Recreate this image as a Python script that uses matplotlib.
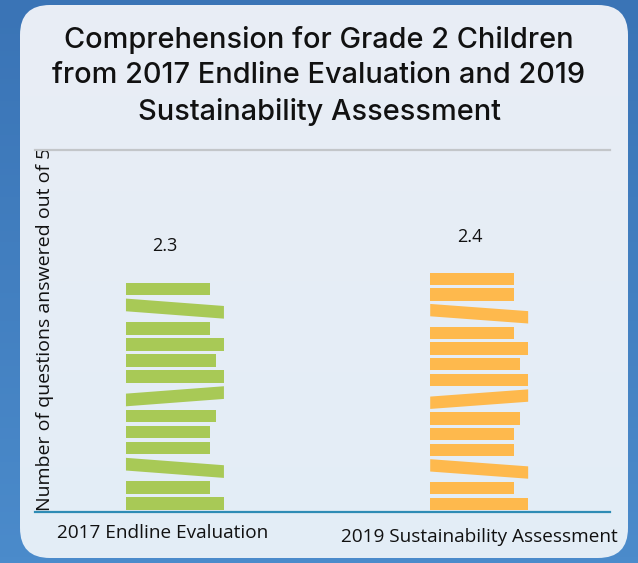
import numpy as np
import matplotlib.pyplot as plt
from matplotlib.patches import FancyBboxPatch, Polygon
from matplotlib.colors import LinearSegmentedColormap
from matplotlib.transforms import ScaledTranslation

categories = ['2017 Endline Evaluation', '2019 Sustainability Assessment']
values = [2.3, 2.4]
value_labels = ['2.3', '2.4']
colors = ['#a8c956', '#feb94d']
title = ('Comprehension for Grade 2 Children\n'
         'from 2017 Endline Evaluation and 2019\n'
         'Sustainability Assessment')
ylabel = 'Number of questions answered out of 5'

# book-stack look of each bar, bottom to top: (width fraction, tilt)
stacks = [
    [(1.0, 0), (0.86, 0), (1.0, -1), (0.86, 0), (0.86, 0), (0.92, 0), (1.0, 1),
     (1.0, 0), (0.92, 0), (1.0, 0), (0.86, 0), (1.0, -1), (0.86, 0)],
    [(1.0, 0), (0.86, 0), (1.0, -1), (0.86, 0), (0.86, 0), (0.92, 0), (1.0, 1),
     (1.0, 0), (0.92, 0), (1.0, 0), (0.86, 0), (1.0, -1), (0.86, 0), (0.86, 0)],
]

W, H = 638, 563
fig = plt.figure(figsize=(W / 100, H / 100), dpi=100)

# background: sky blue + rounded light panel
bg = fig.add_axes([0, 0, 1, 1])
bg.set_xlim(0, W)
bg.set_ylim(H, 0)
bg.axis('off')
grad = np.linspace(0, 1, 100)[:, None] * np.ones((1, 10))
bg.imshow(grad, extent=[0, W, H, 0], aspect='auto',
          cmap=LinearSegmentedColormap.from_list('s', ['#3a74b6', '#4b8bcb']))
panel = FancyBboxPatch((20, 5), 608, 553, boxstyle='round,pad=0,rounding_size=30',
                       fc='none', ec='none')
bg.add_patch(panel)
im = bg.imshow(grad, extent=[0, W, H, 0], aspect='auto',
               cmap=LinearSegmentedColormap.from_list('p', ['#e9eef5', '#e3edf7']))
im.set_clip_path(panel)

fig.text(0.5, 1 - 76 / H, title, ha='center', va='center', fontsize=20.8,
         family='Inter', weight='medium', linespacing=1.4, color='#111111')

ax = fig.add_axes([35 / W, 1 - 512 / H, 575 / W, 362 / H])
ax.patch.set_alpha(0)
ax.set_xlim(-0.46, 1.43)
ax.set_ylim(-0.02, 3.64)

bar_w = 0.322
t, s, gap = 0.79, 0.46, 0.21
for i, (val, stack, col) in enumerate(zip(values, stacks, colors)):
    units = sum(t + (s if tilt else 0) for _, tilt in stack) + gap * (len(stack) - 1)
    k = val / units
    xl = i - bar_w / 2
    y = 0
    for frac, tilt in stack:
        xr = xl + bar_w * frac
        if tilt == 0:
            pts = [(xl, y), (xr, y), (xr, y + t * k), (xl, y + t * k)]
            y += (t + gap) * k
        elif tilt < 0:
            pts = [(xl, y + s * k), (xr, y), (xr, y + t * k), (xl, y + (s + t) * k)]
            y += (t + s + gap) * k
        else:
            pts = [(xl, y), (xr, y + s * k), (xr, y + (s + t) * k), (xl, y + t * k)]
            y += (t + s + gap) * k
        ax.add_patch(Polygon(pts, closed=True, fc=col, ec='none'))
    ax.annotate(value_labels[i], (i, val), xytext=(-7, 26), textcoords='offset points',
                ha='center', va='center', fontsize=13, family='Open Sans', color='#111111')

ax.set_xticks(range(len(categories)))
ax.set_xticklabels(categories, fontsize=13.7, family='Open Sans', color='#111111')
ax.tick_params(axis='x', length=0, pad=8.5)
# nudge tick labels like the original
for lab, (dx, dy) in zip(ax.get_xticklabels(), [(-12, 0), (0, -4)]):
    lab.set_transform(lab.get_transform() + ScaledTranslation(dx / 100, dy / 100, fig.dpi_scale_trans))
ax.set_yticks([])
for side in ['left', 'right']:
    ax.spines[side].set_visible(False)
ax.spines['bottom'].set_color('#2e8cb5')
ax.spines['bottom'].set_linewidth(1.6)
ax.spines['top'].set_color('#c3c6c9')
ax.spines['top'].set_linewidth(1.6)
ax.set_ylabel(ylabel, fontsize=14, family='Open Sans', color='#111111', va='center')
ax.yaxis.set_label_coords(0.017, 0.505)

plt.savefig('out.png', dpi=100)
